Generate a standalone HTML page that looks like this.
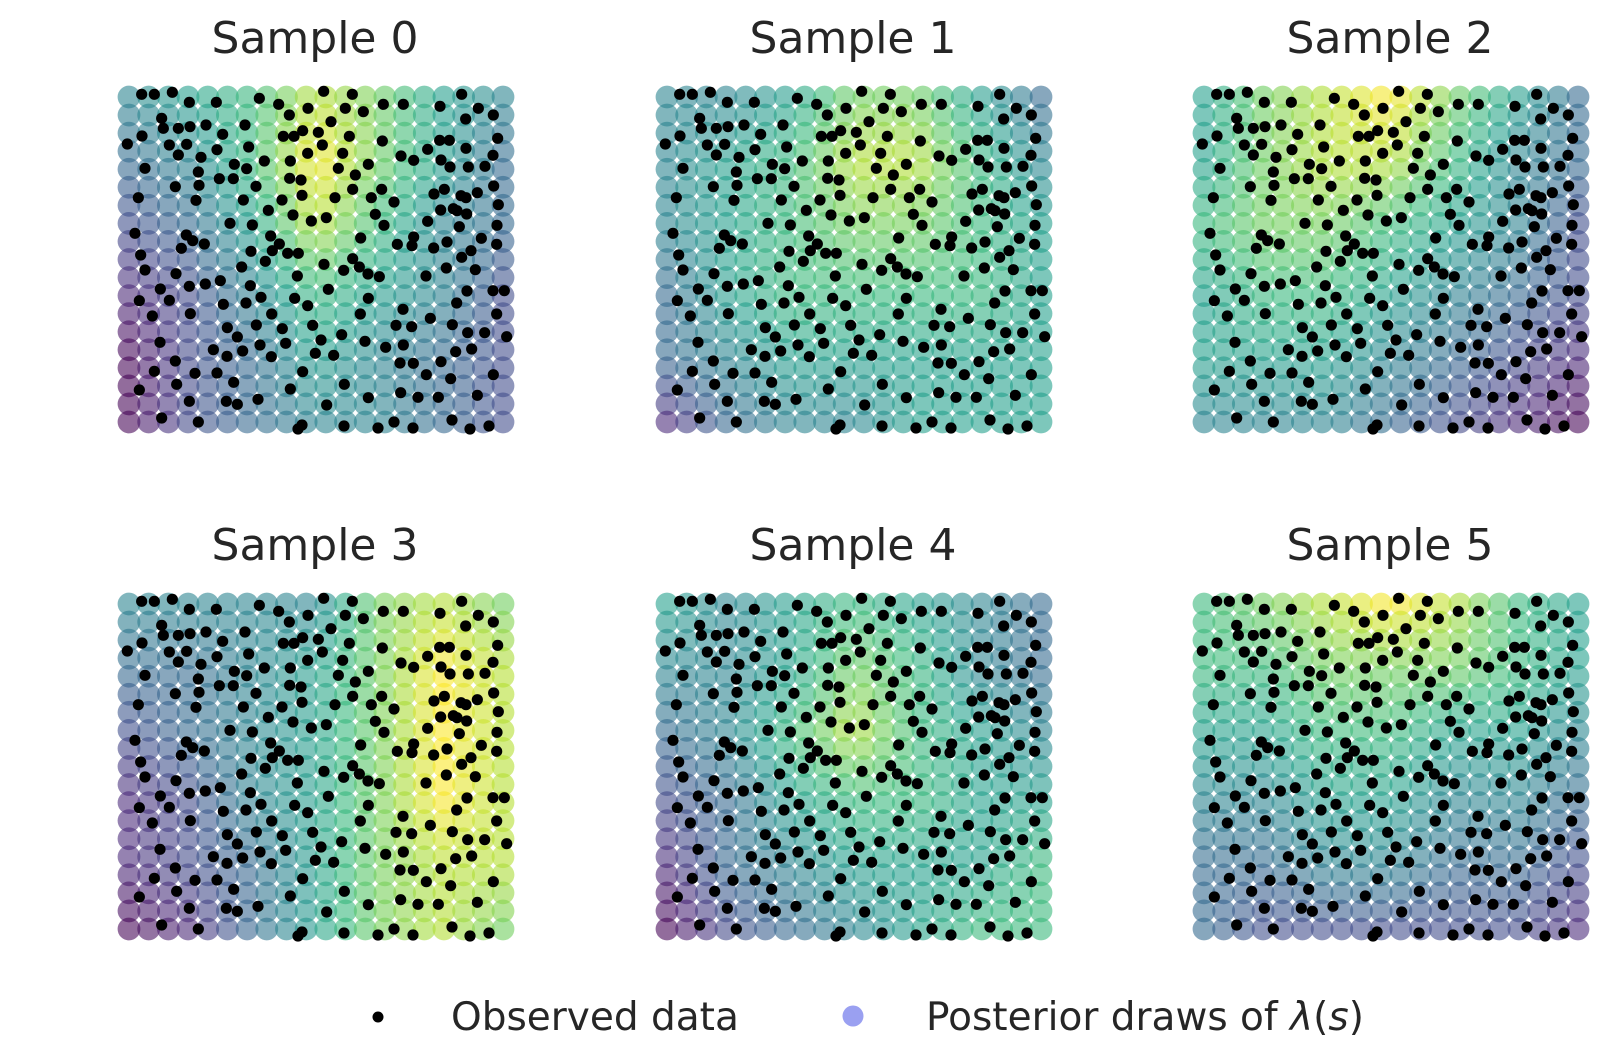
<!DOCTYPE html>
<html><head><meta charset="utf-8"><style>
html,body{margin:0;padding:0;background:#fff;}
svg{display:block;font-family:"DejaVu Sans","Liberation Sans",sans-serif;}
</style></head><body>
<svg id="chart" width="1623" height="1041" viewBox="0 0 1623 1041" xmlns="http://www.w3.org/2000/svg">
<g id="panels"></g>
<g id="legend">
  <circle cx="378" cy="1017" r="5.5" fill="#000"/>
  <text x="451" y="1030" font-size="39" fill="#262626">Observed data</text>
  <circle cx="853" cy="1016" r="10.5" fill="#8f96f0" fill-opacity="0.9"/>
  <text x="926" y="1030" font-size="39" fill="#262626">Posterior draws of <tspan font-style="italic">λ</tspan>(<tspan font-style="italic">s</tspan>)</text>
</g>
</svg>
<script>
// Sample titles
const sampleTitles = ["Sample 0","Sample 1","Sample 2","Sample 3","Sample 4","Sample 5"];
// Coarse intensity fields (0 = low/purple .. 9 = high/yellow), 7 columns x 6 rows, per sample
const field0 = ["4568754","3469753","2358643","1246542","0235432","0234432"];
const field1 = ["4457753","4568864","4567765","3566665","3455555","1344555"];
const field2 = ["5789753","5788643","6776542","5665432","5554321","4443210"];
const field3 = ["4444787","3345798","2345798","1245798","1235788","0135787"];
const field4 = ["5456543","4457643","3468654","2356655","1345556","0234566"];
const field5 = ["6789865","6677765","5566554","4455443","3344332","3222221"];
const fields = [field0, field1, field2, field3, field4, field5];
// Observed point locations (same in every panel), location units
const obsX = [9.5,13.3,18.7,23.8,31.9,44.8,50.6,53.8,59.4,64.1,70.6,72.7,76,82,88,99,105.5,110.5,115,
15.5,16,20.5,24,28.8,40.5,33.8,9.6,5.2,17.8,23,20.5,32.1,27.3,41.6,52,55.2,57.8,62.5,66.3,71.8,63.7,59.3,69.8,81.7,98.9,101.8,106.7,116.3,106.8,95.3,87.3,91.1,99.3,102,107.5,112.5,114.9,
10.5,26.5,37.3,41,46.3,54.1,77.5,68.5,73.6,53.9,57.3,32.8,37,19.6,26.7,43.8,72.8,81.5,57.6,8.5,25.8,40,51.6,67.5,78.4,85.2,97.2,100.3,105.3,106.8,110.2,115.1,116.5,
47.5,54.9,60.4,64.9,79.6,82.2,95.3,99.2,103,104.1,107,104.8,116.1,36,42.7,7.5,22.9,24.8,28.3,21.4,48.2,50.8,48.7,53.3,56.5,42.3,75.2,86.2,91.1,90.6,97.1,101.1,111.4,116,9.2,46.6,39.5,10.5,19.8,56.2,64.2,70.1,72.8,74.8,77.4,80.8,94.8,100.9,105.5,108.3,109.6,
15.1,23.8,28.6,33.1,42.1,45.3,65.5,55.4,59.3,77.5,8.8,17.8,34,40.8,107.1,114.9,118.3,104,24.1,12.7,48.5,75.1,87.9,116,96.1,35.2,43.9,51.7,60.8,69.5,85.8,90.5,102.7,107.3,112.4,119,38.2,63.3,76.5,15,31,39.8,45,52.7,61.6,67.1,82.7,88,108.5,103.7,19.6,35.1,48.4,87,91,99.3,13.3,25.5,32.1,57.8,94.9,102.2,115,20,37.1,70.3,8.8,54.1,23.8,34.9,38.2,44.4,65,77.5,87.2,92.4,98.5,110.2,15.5,26.5,
57.6,56.4,70.2,80.4,85.2,90.9,102.6,108,113.7];
const obsY = [4.3,4.3,3.7,6.7,6.7,5.5,7.3,10.5,8.5,3.4,8.5,4.3,9.5,7.3,7.3,7.9,4.3,8.5,10.5,
11.5,14.5,14.5,14,13.5,13.5,16.3,16.8,19.2,19.5,19.3,22.5,20.9,23.2,20.1,16.9,16.9,15.2,15.7,12.5,16.9,19.5,22,22,18.3,18.1,18.1,11.7,17.5,20.5,20.8,22.8,24.1,24,26.1,26.1,25.9,22.6,
26.5,27.6,25.3,26.6,24.3,24.3,25.3,26.5,28.5,29.5,30,29.6,29.6,32,31.6,31.9,32.8,32.8,34.6,35.3,36.1,36,36,35.3,35.3,36.6,34.2,32.8,34.7,35.3,33.8,31.8,37.4,
39.1,40.5,42.3,41.3,40.3,43.6,42.4,39,38.6,39.2,40.2,44,43.6,43,43.5,46,46.5,48.2,49.2,50.5,46.8,49.2,51.2,52,52,51.4,47.4,49.3,47.1,49.7,50.4,48.6,47.5,49.3,52.5,54.4,56.1,57,58.1,58.8,55.3,57.1,53.6,56.1,58.2,59,58.8,56.4,53.2,51.2,56.9,
62.7,61.9,61.2,60.2,61.7,65.2,62.8,65.5,67.7,65.5,66.2,66.1,67.3,66.9,63.3,63.2,63.2,66.9,70.1,70.8,70.2,70.2,68.8,70.2,71.5,74.3,73.5,74.6,73.6,76.4,73.6,74,73.4,75.8,75.8,77,77.1,78,78.4,78.7,80.9,81.3,79.5,79,82,82.6,80.2,79.5,80.7,81.5,84.3,82.9,83,84.9,85,84.5,87.4,88,87.9,87.5,88.4,89.6,88.4,91.3,90.7,91.3,93,92.7,96.4,96.4,97.3,95.8,97.5,95.3,93.8,95.2,95.2,94.6,101.4,102.6,
103.5,104.7,103.8,104.4,102.6,104.4,102,104.7,103.8];

const NS='http://www.w3.org/2000/svg';
const nCols = 20, nRows = 19;
const panelOffX = [0, 538, 1075], panelOffY = [0, 507];
const viridis = [[68,1,84],[72,40,120],[62,74,137],[49,104,142],[38,130,142],[31,158,137],[53,183,121],[109,205,89],[180,222,44],[253,231,37]];
function vcol(t){t=Math.max(0,Math.min(1,t))*9;const i=Math.min(8,Math.floor(t)),f=t-i;const a=viridis[i],b=viridis[i+1];
  return 'rgb('+a.map((v,k)=>Math.round(v+(b[k]-v)*f)).join(',')+')';}
function fieldAt(fd,u,v){const cx=u*6,cy=v*5;const i=Math.min(5,Math.floor(cx)),j=Math.min(4,Math.floor(cy));const fx=cx-i,fy=cy-j;
  const g=(r,c)=>+fd[r][c];
  const val=g(j,i)*(1-fx)*(1-fy)+g(j,i+1)*fx*(1-fy)+g(j+1,i)*(1-fx)*fy+g(j+1,i+1)*fx*fy;return val/9;}
const panels=document.getElementById('panels');
for(let p=0;p<6;p++){
  const ox=panelOffX[p%3], oy=panelOffY[Math.floor(p/3)];
  const x0=129+ox, x1=503+ox, y0=97+oy, y1=422+oy;
  const xScale=d=>x0+(d-5.7)/(117.9-5.7)*(x1-x0);
  const yScale=d=>y0+(d-5.1)/(102.6-5.1)*(y1-y0);
  const g=document.createElementNS(NS,'g');
  
  
  panels.appendChild(g);
  const t=document.createElementNS(NS,'text');
  
  
  t.setAttribute('x',(x0+x1)/2-1);t.setAttribute('y',53+oy);t.setAttribute('text-anchor','middle');
  t.setAttribute('font-size','44');t.setAttribute('fill','#262626');t.textContent=sampleTitles[p];
  g.appendChild(t);
  const gg=document.createElementNS(NS,'g');
  
  
  g.appendChild(gg);
  for(let r=0;r<nRows;r++)for(let c=0;c<nCols;c++){
    const u=c/(nCols-1),v=r/(nRows-1);
    const ci=document.createElementNS(NS,'circle');
    
    
    ci.setAttribute('cx',x0+u*(x1-x0));ci.setAttribute('cy',y0+v*(y1-y0));ci.setAttribute('r','11.4');
    ci.setAttribute('fill',vcol(fieldAt(fields[p],u,v)));ci.setAttribute('fill-opacity','0.58');
    gg.appendChild(ci);
  }
  const go=document.createElementNS(NS,'g');
  
  
  g.appendChild(go);
  for(let k=0;k<obsX.length;k++){
    const d=document.createElementNS(NS,'circle');
    
    
    d.setAttribute('cx',xScale(obsX[k]));d.setAttribute('cy',yScale(obsY[k]));d.setAttribute('r','5.6');d.setAttribute('fill','#000');
    go.appendChild(d);
  }
}
</script>
</body></html>
